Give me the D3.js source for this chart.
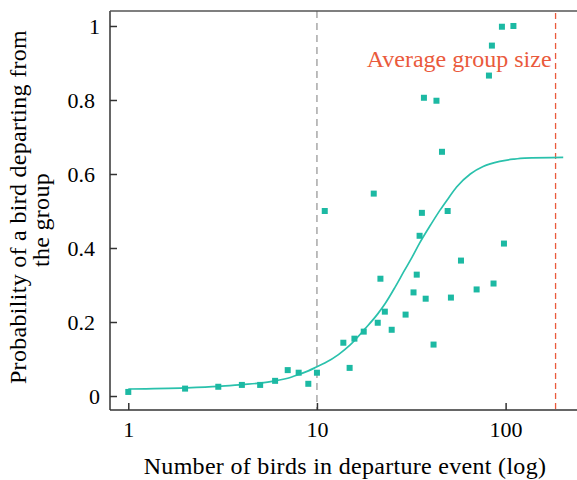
<!DOCTYPE html>
<html>
<head>
<meta charset="utf-8">
<script src="https://cdn.jsdelivr.net/npm/d3@7"></script>
<style>
  body { margin: 0; background: #fff; }
  svg { font-family: "Liberation Serif", "Times New Roman", serif; }
</style>
</head>
<body>
<svg id="chart" width="577" height="480"></svg>
<script>
// observed departures: group size vs probability of departing
var birds = [1, 2, 3, 4, 5, 6, 7, 8, 9, 10, 11, 13.8, 14.9, 15.8, 17.7, 20, 21, 21.7, 22.9, 24.9,
    29.5, 32.5, 33.8, 35, 36, 36.9, 37.7, 41.5, 43, 46, 49.3, 51.3, 58, 70.2, 81.6, 84.6, 86.3, 95.6, 98, 110];
var probs = [0.011, 0.02, 0.025, 0.03, 0.03, 0.041, 0.07, 0.063, 0.033, 0.063, 0.5, 0.144, 0.076, 0.155, 0.174, 0.547, 0.198, 0.317, 0.228, 0.179,
    0.22, 0.28, 0.328, 0.433, 0.495, 0.806, 0.263, 0.139, 0.798, 0.66, 0.5, 0.266, 0.366, 0.288, 0.866, 0.947, 0.304, 0.998, 0.412, 1.0];

// fitted curve
var fitBirds = [1, 2, 3, 4, 5, 6, 7, 8, 9, 10, 11, 13, 15, 18, 21, 23, 26, 29, 32, 35, 40, 45, 49, 55, 65, 76, 93, 110, 126, 202];
var fitProbs = [0.019, 0.022, 0.026, 0.031, 0.035, 0.041, 0.048, 0.058, 0.068, 0.079, 0.089, 0.112, 0.138, 0.182, 0.222, 0.25, 0.295, 0.338, 0.376, 0.413,
    0.462, 0.503, 0.53, 0.565, 0.6, 0.62, 0.634, 0.64, 0.643, 0.645];

var xTicks = [1, 10, 100];
var yTicks = [0, 0.2, 0.4, 0.6, 0.8, 1];
var refLine = 10;
var avgGroupSize = 184;

var svg = d3.select("#chart"),
    pLeft = 110, pRight = 577, pTop = 11, pBottom = 410;

var teal = "#1cb9a3";
var red = "#ea5a3c";
var serif = "'Liberation Serif', 'Times New Roman', serif";

var x = d3.scaleLog().domain([0.8, 239]).range([pLeft, pRight]);
var y = d3.scaleLinear().domain([-0.0378, 1.0405]).range([pBottom, pTop]);

// reference lines
svg.append("line")
    .attr("x1", x(refLine)).attr("x2", x(refLine))
    .attr("y1", pTop).attr("y2", pBottom)
    .style("stroke", "#9a9a9a").style("stroke-width", 1.3)
    .style("stroke-dasharray", "7,5");

svg.append("line")
    .attr("x1", x(avgGroupSize)).attr("x2", x(avgGroupSize))
    .attr("y1", pTop + 2).attr("y2", pBottom)
    .style("stroke", red).style("stroke-width", 1.3)
    .style("stroke-dasharray", "6,4");

svg.append("text")
    .attr("x", x(avgGroupSize) - 4)
    .attr("y", 67)
    .attr("text-anchor", "end")
    .style("font-size", "24px")
    .style("fill", red)
    .text("Average group size");

// axes
var yAxis = d3.axisLeft(y)
    .tickValues(yTicks)
    .tickSizeInner(-7)
    .tickSizeOuter(0)
    .tickPadding(10)
    .tickFormat(function (d) { return d3.format("")(d); });

var gy = svg.append("g")
    .attr("transform", "translate(" + pLeft + ",0)")
    .call(yAxis);
gy.selectAll("text")
    .style("font-family", serif)
    .style("font-size", "22px")
    .attr("dx", function (d) { return Number.isInteger(d) ? 0 : -5; });

var xAxis = d3.axisBottom(x)
    .tickValues(xTicks)
    .tickSizeInner(-7)
    .tickSizeOuter(0)
    .tickPadding(11)
    .tickFormat(d3.format("d"));

var gx = svg.append("g")
    .attr("transform", "translate(0," + pBottom + ")")
    .call(xAxis);
gx.selectAll("text")
    .style("font-family", serif)
    .style("font-size", "22px");

svg.selectAll(".domain, .tick line")
    .style("stroke", "#333").style("stroke-width", 1.5);
gx.select(".domain").attr("d", "M" + pLeft + ",0H" + pRight);
gy.select(".domain").attr("d", "M0," + pTop + "V" + pBottom);

svg.append("line")
    .attr("x1", pLeft).attr("x2", pRight)
    .attr("y1", pTop).attr("y2", pTop)
    .style("stroke", "#555").style("stroke-width", 1.6);

// fitted curve
var line = d3.line()
    .x(function (d) { return x(d[0]); })
    .y(function (d) { return y(d[1]); })
    .curve(d3.curveMonotoneX);

svg.append("path")
    .datum(d3.zip(fitBirds, fitProbs))
    .attr("d", line)
    .style("fill", "none")
    .style("stroke", "#2ac1ac")
    .style("stroke-width", 1.7);

// observed points
var sq = 6;
svg.append("g")
    .selectAll("rect")
    .data(d3.zip(birds, probs))
    .enter().append("rect")
    .attr("x", function (d) { return x(d[0]) - sq / 2; })
    .attr("y", function (d) { return y(d[1]) - sq / 2; })
    .attr("width", sq)
    .attr("height", sq)
    .style("fill", teal);

// axis titles
svg.append("text")
    .attr("x", 345)
    .attr("y", 474)
    .attr("text-anchor", "middle")
    .style("font-size", "24px")
    .style("letter-spacing", "0.3px")
    .text("Number of birds in departure event (log)");

var yTitle = svg.append("g")
    .attr("text-anchor", "middle")
    .style("font-size", "24px")
    .style("letter-spacing", "0.3px");
yTitle.append("text")
    .attr("transform", "translate(26,207) rotate(-90)")
    .text("Probability of a bird departing from");
yTitle.append("text")
    .attr("transform", "translate(49,220) rotate(-90)")
    .text("the group");
</script>
</body>
</html>
